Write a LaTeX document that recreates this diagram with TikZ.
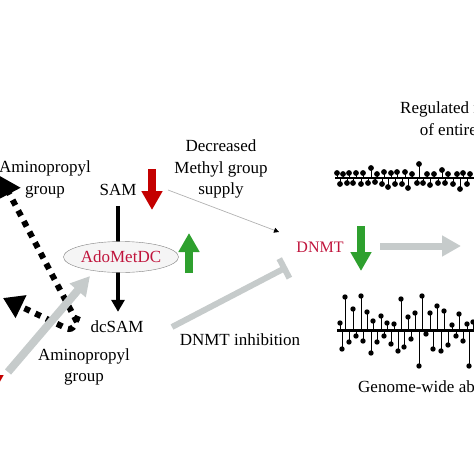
\documentclass[tikz,border=0pt]{standalone}
\usepackage{fontspec}
\setmainfont{Liberation Serif}
\usepackage{tikz}
\usetikzlibrary{positioning, arrows.meta, shapes.geometric, calc}

\definecolor{samred}{HTML}{C40000}
\definecolor{namered}{HTML}{C0143C}
\definecolor{upgreen}{HTML}{2EA02E}
\definecolor{arrowgray}{HTML}{C6CBCB}

\tikzset{
    lbl/.style={font=\fontsize{17}{21.5}\selectfont, align=center, inner sep=0pt},
    fat/.style={line width=8pt, -{Triangle[width=20pt,length=19pt]}},
    dotarrow/.style={line width=6pt, dash pattern=on 6pt off 6pt, -{Triangle[width=24pt,length=20pt]}},
    stem/.style={line width=0.8pt},
}

\begin{document}
\begin{tikzpicture}[x=1pt, y=-1pt]
    \useasboundingbox (0,0) rectangle (474,474);
    \clip (0,0) rectangle (474,474);

    % texts
    \node[lbl, anchor=north] (amino1) at (45,161) {Aminopropyl\\group};
    \node[lbl, inner sep=5pt] (sam) at (118,190) {SAM};
    \node[lbl, inner sep=5pt] (dcsam) at (117,327) {dcSAM};
    \node[lbl, anchor=north] (amino2) at (84,348) {Aminopropyl\\group};
    \node[lbl, anchor=north] (decr) at (221,140) {Decreased\\Methyl group\\supply};
    \node[lbl, text=namered, font=\fontsize{16}{20}\selectfont] (dnmt) at (320,247) {DNMT};
    \node[lbl] (inhib) at (240,340) {DNMT inhibition};
    \node[lbl, anchor=north west] (regul) at (400,102) {Regulated methylation\\of entire genome};
    \node[lbl, anchor=base west] (genome) at (358,392) {Genome-wide aberrant methylation};

    % SAM to dcSAM
    \draw[line width=4pt, -{Triangle[width=13pt,length=12pt]}, shorten <=5pt, shorten >=4pt]
        (sam.south) -- (sam.south |- dcsam.north);
    \node[ellipse, draw=gray, fill=gray!8, minimum width=115pt, minimum height=31pt,
        inner sep=0pt, font=\fontsize{17}{20}\selectfont, text=namered] (adomet) at (121,257) {AdoMetDC};

    % up and down arrows
    \draw[fat, samred] (152,169) -- (152,210);
    \draw[fat, samred] (-7,352) -- (-7,394);
    \draw[fat, upgreen] (189,273) -- (189,233);
    \draw[fat, upgreen] (361,226) -- (361,271);

    % aminopropyl transfer
    \coordinate (src) at (77,322);
    \coordinate (tipA) at (0,176);
    \coordinate (tipB) at (3,298);
    \draw[dotarrow] (src) -- (tipA);
    \draw[dotarrow, rounded corners=6pt] (78,316) -- (72,331) -- (tipB);
    \coordinate (grayA) at (8,372);
    \coordinate (grayB) at (90,276);
    \draw[fat, arrowgray] (grayA) -- (grayB);

    % methyl supply and inhibition
    \coordinate (supA) at (168,190);
    \coordinate (supB) at (279,232);
    \draw[gray!60, line width=0.7pt, -{Triangle[width=5pt,length=5pt,color=black]}] (supA) -- (supB);
    \coordinate (inhA) at (172,327);
    \coordinate (inhB) at (287,267);
    \draw[arrowgray, line width=6pt, -{Bar[width=22pt]}] (inhA) -- (inhB);
    \coordinate (outA) at (380,246);
    \coordinate (outB) at (461,246);
    \draw[fat, line width=7pt, arrowgray] (outA) -- (outB);

    % regulated methylation
    \draw[line width=2.8pt] (335,178) -- (480,178);
    \foreach \x/\y in {337/173, 343/174, 349/173, 356/173, 363/173, 371/168, 377/174,
        384/172, 391/173, 397/172, 405/172, 412/174, 419/164, 427/174, 434/174,
        442/170, 448/174, 457/174, 463/173, 470/174,
        340/184, 347/183, 353/183, 361/184, 368/183, 375/182, 382/184, 388/187,
        395/184, 402/184, 408/188, 417/183, 423/183, 430/185, 438/183, 445/183,
        453/184, 460/189, 467/184}
    {
        \draw[stem] (\x,178) -- (\x,\y);
        \fill (\x,\y) circle (2.9pt);
    }

    % aberrant methylation
    \draw[line width=3pt] (337,330) -- (480,330);
    \foreach \x/\y in {340/323, 345/297, 353/309, 361/296, 367/312, 373/321, 381/316,
        387/323, 394/324, 401/299, 408/317, 415/313, 422/296, 430/313, 437/306,
        444/311, 452/325, 459/314, 467/324, 473/322,
        342/349, 349/342, 356/336, 363/341, 371/353, 377/342, 384/336, 391/344,
        398/351, 404/347, 411/339, 419/366, 426/334, 433/349, 441/351, 448/345,
        456/336, 463/341, 469/366}
    {
        \draw[stem] (\x,330) -- (\x,\y);
        \fill (\x,\y) circle (2.7pt);
    }
\end{tikzpicture}
\end{document}
